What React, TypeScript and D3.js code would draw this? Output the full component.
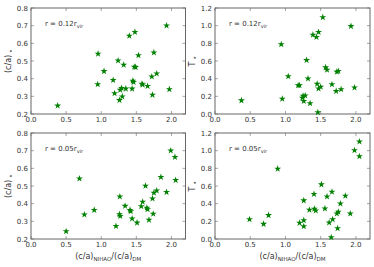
import * as d3 from 'd3';

// ratio of shapes, one entry per galaxy
const ratioInner = [0.38, 0.95, 0.955, 1.04, 1.17, 1.19, 1.24, 1.26, 1.27, 1.29, 1.30, 1.32, 1.35, 1.40, 1.44, 1.45, 1.46, 1.47, 1.48, 1.49, 1.53, 1.58, 1.59, 1.66, 1.72, 1.73, 1.75, 1.79, 1.93, 1.97];
const caInner = [0.247, 0.368, 0.541, 0.442, 0.392, 0.317, 0.502, 0.278, 0.336, 0.347, 0.299, 0.478, 0.343, 0.642, 0.343, 0.388, 0.381, 0.467, 0.664, 0.465, 0.532, 0.371, 0.366, 0.358, 0.412, 0.308, 0.548, 0.429, 0.700, 0.340];

const ratioInnerT = [0.375, 0.94, 0.955, 1.04, 1.18, 1.20, 1.24, 1.25, 1.26, 1.28, 1.30, 1.32, 1.35, 1.39, 1.44, 1.45, 1.46, 1.47, 1.47, 1.50, 1.53, 1.57, 1.59, 1.66, 1.72, 1.73, 1.75, 1.79, 1.93, 1.98];
const tInner = [0.153, 0.789, 0.172, 0.426, 0.325, 0.325, 0.183, 0.206, 0.146, 0.209, 0.609, 0.40, 0.12, 0.897, 0.871, 0.34, 0.019, 0.927, 0.288, 0.307, 1.095, 0.527, 0.50, 0.336, 0.258, 0.478, 0.486, 0.28, 0.994, 0.299];

const ratioOuter = [0.50, 0.69, 0.76, 0.90, 1.21, 1.265, 1.26, 1.27, 1.34, 1.41, 1.42, 1.44, 1.51, 1.57, 1.59, 1.63, 1.65, 1.66, 1.68, 1.73, 1.74, 1.75, 1.79, 1.85, 1.93, 1.99, 2.05, 2.06];
const caOuter = [0.243, 0.542, 0.338, 0.364, 0.273, 0.44, 0.340, 0.330, 0.387, 0.364, 0.357, 0.315, 0.292, 0.385, 0.41, 0.501, 0.376, 0.368, 0.308, 0.429, 0.342, 0.461, 0.474, 0.55, 0.465, 0.70, 0.664, 0.533];

const ratioOuterT = [0.49, 0.69, 0.76, 0.89, 1.20, 1.26, 1.26, 1.26, 1.34, 1.405, 1.41, 1.43, 1.51, 1.56, 1.59, 1.62, 1.65, 1.66, 1.67, 1.73, 1.75, 1.74, 1.78, 1.85, 1.92, 1.98, 2.05, 2.05];
const tOuter = [0.223, 0.17, 0.269, 0.795, 0.182, 0.436, 0.212, 0.144, 0.33, 0.508, 0.341, 0.322, 0.617, 0.345, 0.481, 0.186, 0.019, 0.534, 0.223, 0.288, 0.307, 0.121, 0.40, 0.489, 0.288, 1.004, 0.936, 1.102];

const xTicks = [0, 0.5, 1.0, 1.5, 2.0];
const caTicks = [0.2, 0.3, 0.4, 0.5, 0.6, 0.7, 0.8];
const tTicks = [0, 0.2, 0.4, 0.6, 0.8, 1.0, 1.2];

const font = 'DejaVu Sans, sans-serif';
const frame = '#666';
const ink = '#333';
const star = d3.symbol().type(d3.symbolStar).size(15)();

function Panel({ left, top, right, bottom, xs, ys, yDomain, yTicks, yLabel, radius, xLabel }: any) {
  const x = d3.scaleLinear().domain([0, 2.2]).range([left, right]);
  const y = d3.scaleLinear().domain(yDomain).range([bottom, top]);
  const tl = 3;
  return (
    <g fontFamily={font} fontSize={7} fill={ink}>
      {xTicks.map((t) => (
        <g key={'x' + t}>
          <line x1={x(t)} x2={x(t)} y1={bottom} y2={bottom - tl} stroke={frame} strokeWidth={0.6} />
          <line x1={x(t)} x2={x(t)} y1={top} y2={top + tl} stroke={frame} strokeWidth={0.6} />
          <text x={x(t)} y={bottom + 8} textAnchor="middle">{t.toFixed(1)}</text>
        </g>
      ))}
      {yTicks.map((t: number) => (
        <g key={'y' + t}>
          <line x1={left} x2={left + tl} y1={y(t)} y2={y(t)} stroke={frame} strokeWidth={0.6} />
          <line x1={right} x2={right - tl} y1={y(t)} y2={y(t)} stroke={frame} strokeWidth={0.6} />
          <text x={left - 3} y={y(t) + 2.5} textAnchor="end">{t.toFixed(1)}</text>
        </g>
      ))}
      <rect x={left} y={top} width={right - left} height={bottom - top} fill="none" stroke={frame} strokeWidth={1} />
      {xs.map((v: number, i: number) => (
        <path key={i} d={star as string} transform={`translate(${x(v)},${y(ys[i])})`} fill="#008000" />
      ))}
      <text x={left + 14} y={top + 18} fontSize={7}>
        {`r = ${radius}r`}<tspan fontSize={5} dy={2}>vir</tspan>
      </text>
      <text transform={`translate(${left - 20},${(top + bottom) / 2}) rotate(-90)`} textAnchor="middle" fontSize={8}>
        {yLabel}<tspan fontSize={7} dx={1.5} dy={2}>⋆</tspan>
      </text>
      {xLabel && (
        <text x={(left + right) / 2} y={bottom + 20} textAnchor="middle" fontSize={8}>
          (c/a)<tspan fontSize={5.5} dy={2}>NIHAO</tspan><tspan dy={-2}>/(c/a)</tspan><tspan fontSize={5.5} dy={2}>DM</tspan>
        </text>
      )}
    </g>
  );
}

export default function App() {
  return (
    <svg width={374} height={267} style={{ position: 'absolute', left: 0, top: 0, background: '#fff' }}>
      <Panel left={31} right={185.5} top={8} bottom={114} xs={ratioInner} ys={caInner} yDomain={[0.2, 0.8]} yTicks={caTicks} yLabel="(c/a)" radius="0.12" />
      <Panel left={215} right={370} top={8} bottom={114} xs={ratioInnerT} ys={tInner} yDomain={[0, 1.2]} yTicks={tTicks} yLabel="T" radius="0.12" />
      <Panel left={31} right={185.5} top={133} bottom={239} xs={ratioOuter} ys={caOuter} yDomain={[0.2, 0.8]} yTicks={caTicks} yLabel="(c/a)" radius="0.05" xLabel />
      <Panel left={215} right={370} top={133} bottom={239} xs={ratioOuterT} ys={tOuter} yDomain={[0, 1.2]} yTicks={tTicks} yLabel="T" radius="0.05" xLabel />
    </svg>
  );
}
